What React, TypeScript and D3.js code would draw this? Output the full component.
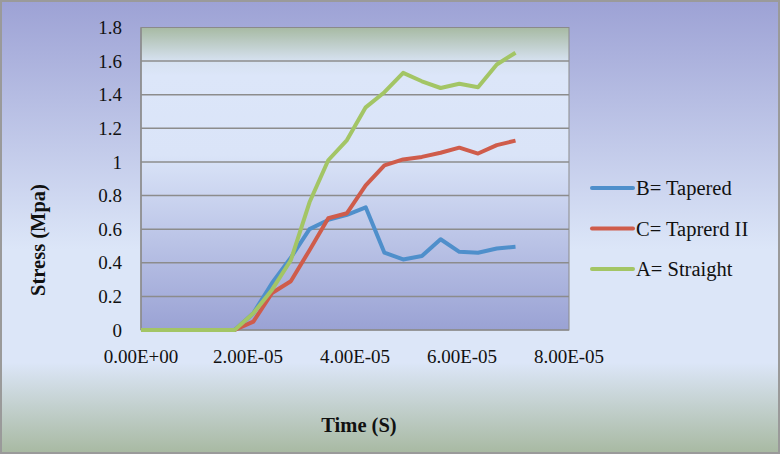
import React from 'react';
import * as d3 from 'd3';

// time steps (s)
const times = d3.range(21).map((i) => i * 3.5e-6);

const tapered = [0, 0, 0, 0, 0, 0, 0.1, 0.28, 0.43, 0.6, 0.655, 0.685, 0.73, 0.46, 0.42, 0.44, 0.54, 0.465, 0.46, 0.485, 0.495];
const taperedII = [0, 0, 0, 0, 0, 0, 0.05, 0.22, 0.29, 0.475, 0.665, 0.695, 0.86, 0.98, 1.015, 1.03, 1.055, 1.085, 1.05, 1.1, 1.127];
const straight = [0, 0, 0, 0, 0, 0, 0.1, 0.24, 0.415, 0.76, 1.01, 1.13, 1.325, 1.415, 1.53, 1.48, 1.44, 1.465, 1.445, 1.58, 1.65];

const seriesNames = ['B= Tapered', 'C= Taprerd II', 'A= Straight'];
const seriesColors = ['#4f8fcb', '#cf5c4b', '#a3c565'];
const seriesData = [tapered, taperedII, straight];

const xTicks = [0, 2e-5, 4e-5, 6e-5, 8e-5];
const xTickLabels = ['0.00E+00', '2.00E-05', '4.00E-05', '6.00E-05', '8.00E-05'];
const yTicks = [0, 0.2, 0.4, 0.6, 0.8, 1, 1.2, 1.4, 1.6, 1.8];

export default function App() {
  const W = 780;
  const H = 454;
  const left = 141;
  const right = 569;
  const top = 27.5;
  const bottom = 330;

  const x = d3.scaleLinear().domain([0, 8e-5]).range([left, right]);
  const y = d3.scaleLinear().domain([0, 1.8]).range([bottom, top]);

  const line = d3
    .line<number>()
    .x((d, i) => x(times[i]))
    .y((d) => y(d));

  const font = '"Liberation Serif", "Times New Roman", serif';

  return (
    <div>
      <style>{'body{margin:0}'}</style>
      <svg width={W} height={H} style={{ display: 'block' }}>
        <defs>
          <linearGradient id="outerBg" x1="0" y1="0" x2="0" y2="1">
            <stop offset="0%" stopColor="#9da2d5" />
            <stop offset="55%" stopColor="#dce6f8" />
            <stop offset="80%" stopColor="#dce6f8" />
            <stop offset="100%" stopColor="#a8b9a2" />
          </linearGradient>
          <linearGradient id="plotBg" x1="0" y1="0" x2="0" y2="1">
            <stop offset="0%" stopColor="#a7baa3" />
            <stop offset="11%" stopColor="#d6e1f0" />
            <stop offset="16%" stopColor="#dce6f9" />
            <stop offset="42%" stopColor="#dae4f8" />
            <stop offset="100%" stopColor="#9aa2d4" />
          </linearGradient>
        </defs>
        <rect x={1} y={1} width={W - 2} height={H - 2} fill="url(#outerBg)" stroke="#9a9a9a" strokeWidth={2} />
        <rect x={left} y={top} width={right - left} height={bottom - top} fill="url(#plotBg)" stroke="#8a8a8a" strokeWidth={1} />

        {yTicks.map((t) => (
          <g key={t}>
            {t > 0 && t < 1.8 && (
              <line x1={left} x2={right} y1={y(t)} y2={y(t)} stroke="#8c8c8c" strokeWidth={1.5} />
            )}
            <text x={122} y={y(t)} dy="0.35em" textAnchor="end" fontFamily={font} fontSize={19} fill="#111">
              {d3.format('~g')(t)}
            </text>
          </g>
        ))}
        <line x1={left} x2={left} y1={top} y2={bottom} stroke="#8c8c8c" strokeWidth={1.5} />
        <line x1={left} x2={right} y1={bottom} y2={bottom} stroke="#8c8c8c" strokeWidth={1.5} />

        {xTicks.map((t, i) => (
          <text key={t} x={x(t)} y={363} textAnchor="middle" fontFamily={font} fontSize={19} fill="#111">
            {xTickLabels[i]}
          </text>
        ))}

        {seriesData.map((s, i) => (
          <path
            key={seriesNames[i]}
            d={line(s) || ''}
            fill="none"
            stroke={seriesColors[i]}
            strokeWidth={4}
            strokeLinejoin="round"
          />
        ))}

        {seriesNames.map((n, i) => {
          const ly = 188 + i * 40.5;
          return (
            <g key={n}>
              <line x1={592} x2={633} y1={ly} y2={ly} stroke={seriesColors[i]} strokeWidth={4} strokeLinecap="round" />
              <text x={636} y={ly} dy="0.35em" fontFamily={font} fontSize={20.5} fill="#111">
                {n}
              </text>
            </g>
          );
        })}

        <text x={359} y={432} textAnchor="middle" fontFamily={font} fontSize={20.5} fontWeight="bold" fill="#111">
          Time (S)
        </text>
        <text
          transform={`translate(38,240) rotate(-90)`}
          textAnchor="middle"
          dy="0.35em"
          fontFamily={font}
          fontSize={20.5}
          fontWeight="bold"
          fill="#111"
        >
          Stress (Mpa)
        </text>
      </svg>
    </div>
  );
}
